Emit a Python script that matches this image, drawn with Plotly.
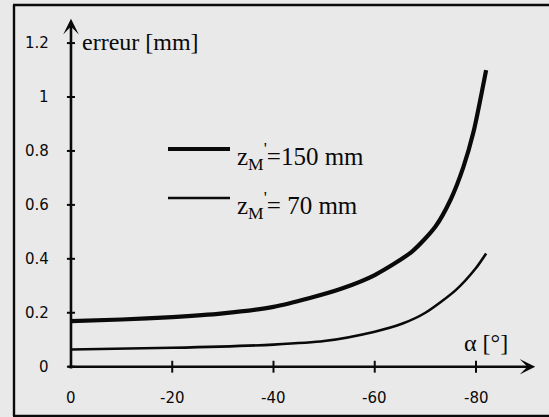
import plotly.graph_objects as go

# ---- data ----
alpha_150 = [0, -10, -20, -30, -40, -47, -53.5, -60, -67.3, -72, -75, -77.5, -79.5, -82]
err_150 = [0.169, 0.175, 0.184, 0.198, 0.222, 0.254, 0.29, 0.34, 0.426, 0.52, 0.62, 0.74, 0.87, 1.1]

alpha_70 = [0, -20, -40, -50, -60, -65.5, -70, -76, -80, -82]
err_70 = [0.064, 0.07, 0.082, 0.095, 0.13, 0.16, 0.2, 0.284, 0.366, 0.42]

y_ticks = [0, 0.2, 0.4, 0.6, 0.8, 1, 1.2]
y_tick_labels = ["0", "0.2", "0.4", "0.6", "0.8", "1", "1.2"]
x_ticks = [0, -20, -40, -60, -80]
x_tick_labels = ["0", "-20", "-40", "-60", "-80"]

legend_labels = ["z<sub>M</sub><sup>'</sup>=150 mm", "z<sub>M</sub><sup>'</sup>= 70 mm"]
y_title = "erreur [mm]"
x_title = "α [°]"

W, H = 549, 417
BG = "#e9e9e9"
INK = "#0a0a0a"
SERIF = "Liberation Serif"
SANS = "DejaVu Sans"


def px(x):
    return x / W


def py(y):
    return 1 - y / H


fig = go.Figure()
fig.add_trace(go.Scatter(x=alpha_150, y=err_150, mode="lines",
                         line=dict(color=INK, width=4.2, shape="spline", smoothing=0.7),
                         hoverinfo="skip", showlegend=False))
fig.add_trace(go.Scatter(x=alpha_70, y=err_70, mode="lines",
                         line=dict(color=INK, width=2.6, shape="spline", smoothing=0.7),
                         hoverinfo="skip", showlegend=False))

shapes = []
annotations = []

# tick marks crossing the axes
for v in y_ticks:
    shapes.append(dict(type="line", xref="x", yref="y", x0=0.8, x1=-0.8, y0=v, y1=v,
                       line=dict(color=INK, width=2)))
for v in x_ticks[1:]:
    shapes.append(dict(type="line", xref="x", yref="y", x0=v, x1=v, y0=-0.022, y1=0.022,
                       line=dict(color=INK, width=2)))

# tick labels
for v, t in zip(y_ticks, y_tick_labels):
    annotations.append(dict(x=0, y=v, xref="x", yref="y", text=t, showarrow=False,
                            xanchor="right", yanchor="middle", xshift=-20,
                            font=dict(family=SANS, size=15, color=INK)))
for v, t in zip(x_ticks, x_tick_labels):
    annotations.append(dict(x=v, y=0, xref="x", yref="y", text=t, showarrow=False,
                            xanchor="center", yanchor="middle", yshift=-31,
                            font=dict(family=SANS, size=15, color=INK)))

# axes with arrows
annotations.append(dict(x=0, y=1.29, ax=0, ay=-0.012, xref="x", yref="y", axref="x", ayref="y",
                        text="", showarrow=True, arrowhead=3, arrowsize=1.0, arrowwidth=2.6,
                        arrowcolor=INK, standoff=0, startstandoff=0))
annotations.append(dict(x=-91.7, y=0, ax=0.8, ay=0, xref="x", yref="y", axref="x", ayref="y",
                        text="", showarrow=True, arrowhead=3, arrowsize=1.0, arrowwidth=2.6,
                        arrowcolor=INK, standoff=0, startstandoff=0))

# axis titles
annotations.append(dict(x=px(80), y=py(42), xref="paper", yref="paper", text=y_title,
                        showarrow=False, xanchor="left", yanchor="middle",
                        font=dict(family=SERIF, size=24, color=INK)))
annotations.append(dict(x=px(462), y=py(343), xref="paper", yref="paper", text=x_title,
                        showarrow=False, xanchor="left", yanchor="middle",
                        font=dict(family=SERIF, size=24, color=INK)))

# legend
leg_y = [149, 198]
leg_w = [4.2, 2.6]
text_y = [156, 205]
for i in range(2):
    shapes.append(dict(type="line", xref="paper", yref="paper", x0=px(168), x1=px(230),
                       y0=py(leg_y[i]), y1=py(leg_y[i]), line=dict(color=INK, width=leg_w[i])))
    annotations.append(dict(x=px(235), y=py(text_y[i]), xref="paper", yref="paper",
                            text=legend_labels[i], showarrow=False, xanchor="left",
                            yanchor="middle", font=dict(family=SERIF, size=25, color=INK)))

# page frame (left, top, bottom)
shapes.append(dict(type="line", xref="paper", yref="paper", x0=px(14), x1=px(14),
                   y0=py(5), y1=py(416), line=dict(color=INK, width=2.4)))
shapes.append(dict(type="line", xref="paper", yref="paper", x0=px(13), x1=1.0,
                   y0=py(5), y1=py(5), line=dict(color=INK, width=2.4)))
shapes.append(dict(type="line", xref="paper", yref="paper", x0=px(13), x1=1.0,
                   y0=py(416), y1=py(416), line=dict(color=INK, width=2.4)))

fig.update_layout(
    width=W, height=H,
    margin=dict(l=0, r=0, t=0, b=0),
    paper_bgcolor=BG, plot_bgcolor=BG,
    xaxis=dict(range=[14.02, -94.42], visible=False, domain=[0, 1]),
    yaxis=dict(range=[-0.1865, 1.3597], visible=False, domain=[0, 1]),
    shapes=shapes, annotations=annotations,
    showlegend=False,
)

fig.write_html("out.html", config={"displayModeBar": False},
               post_script="document.body.style.margin='0';document.body.style.background='" + BG + "';")
